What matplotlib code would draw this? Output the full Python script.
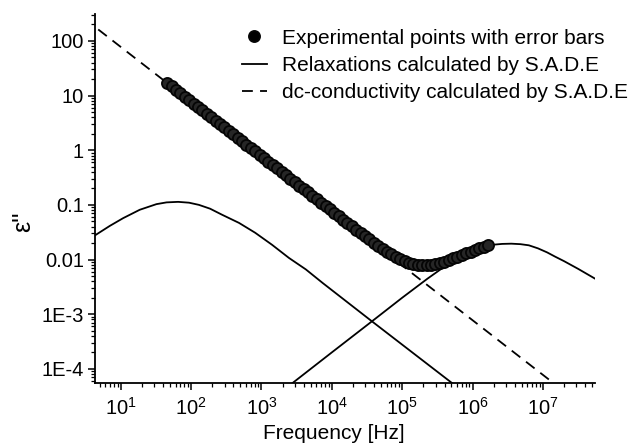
import numpy as np
import matplotlib
matplotlib.use("Agg")
import matplotlib.pyplot as plt
from matplotlib.ticker import FixedLocator, FixedFormatter, LogLocator, NullFormatter

plt.rcParams['font.family'] = ['Liberation Sans', 'DejaVu Sans']

# experimental points (Hz, eps'')
exp_freq = [45.7, 52.8, 60.9, 70.4, 81.3, 93.9, 108.4, 125.2, 144.5, 167.0,
            192.8, 222.6, 257.0, 296.9, 342.8, 395.9, 457.1, 527.9, 609.5, 704.0,
            812.8, 938.7, 1084, 1252, 1445, 1669, 1928, 2226, 2570, 2969,
            3428, 3959, 4571, 5279, 6095, 7040, 8128, 9387, 10840, 12520,
            14450, 16690, 19280, 22260, 25700, 29690, 34280, 39590, 45710, 52790,
            60950, 70400, 81280, 93870, 108400, 125200, 144500, 166900, 192800, 222600,
            257000, 296900, 342800, 395900, 457100, 527900, 609500, 704000, 812800, 938700,
            1084000, 1252000, 1445000, 1669000]
exp_eps = [16.96, 14.68, 12.73, 11.01, 9.53, 8.25, 7.15, 6.19, 5.36, 4.64,
           4.02, 3.48, 3.02, 2.61, 2.26, 1.96, 1.70, 1.47, 1.27, 1.10,
           0.954, 0.826, 0.715, 0.619, 0.536, 0.464, 0.402, 0.348, 0.302, 0.261,
           0.226, 0.196, 0.170, 0.147, 0.127, 0.110, 0.0954, 0.0826, 0.0715, 0.0619,
           0.0539, 0.0467, 0.0406, 0.0353, 0.0307, 0.0267, 0.0233, 0.0204, 0.0179, 0.0158,
           0.0139, 0.0124, 0.0112, 0.0101, 0.00932, 0.00869, 0.00825, 0.00798, 0.00788, 0.00788,
           0.00792, 0.00811, 0.00857, 0.00912, 0.00983, 0.0105, 0.0113, 0.0121, 0.0130, 0.0140,
           0.0150, 0.0162, 0.0172, 0.0183]

# relaxation 1 (low frequency)
rel1_freq = [3.55, 4.42, 7.0, 10.8, 18.6, 32.1, 44.7, 65.3, 93.3, 129,
             186, 275, 479, 813, 1413, 2455, 4266, 7413, 37150, 562000]
rel1_eps = [0.0237, 0.0283, 0.0413, 0.0571, 0.0813, 0.103, 0.111, 0.1135, 0.1096, 0.100,
            0.0851, 0.066, 0.0468, 0.0309, 0.0186, 0.0107, 0.0066, 0.00372, 0.00074, 0.00005]

# relaxation 2 (high frequency)
rel2_freq = [2512, 10000, 37150, 100000, 229000, 380000, 631000, 794000, 1000000, 1380000,
             1900000, 2630000, 3550000, 4790000, 6310000, 8510000, 11480000, 14790000,
             20000000, 31600000, 55000000]
rel2_eps = [0.00005, 0.0002, 0.00074, 0.002, 0.00447, 0.0071, 0.0105, 0.0120, 0.0138, 0.0162,
            0.0186, 0.0193, 0.0195, 0.0191, 0.0182, 0.0160, 0.0135, 0.01135,
            0.00933, 0.00676, 0.00447]

# dc conductivity (straight line in log-log)
dc_freq = [3.0, 20000000]
dc_eps = [258.0, 0.0000388]

fig = plt.figure(figsize=(6.34, 4.48), dpi=100)
ax = fig.add_axes([0.1498, 0.145, 0.7887, 0.8237])

ax.plot(dc_freq, dc_eps, color='black', lw=1.3, ls=(0, (6, 4)),
        label='dc-conductivity calculated by S.A.D.E')
ax.plot(rel1_freq, rel1_eps, color='black', lw=1.3,
        label='Relaxations calculated by S.A.D.E')
ax.plot(rel2_freq, rel2_eps, color='black', lw=1.3)
ax.plot(exp_freq, exp_eps, ls='none', marker='o', ms=8, mfc='#262626',
        mec='#050505', mew=1.3, label='Experimental points with error bars')

ax.set_xscale('log')
ax.set_yscale('log')
ax.set_xlim(4.3, 5.5e7)
ax.set_ylim(5.5e-5, 310)

for s in ['top', 'right']:
    ax.spines[s].set_visible(False)
for s in ['left', 'bottom']:
    ax.spines[s].set_linewidth(1.3)

yt = [1e-4, 1e-3, 1e-2, 1e-1, 1, 10, 100]
ax.yaxis.set_major_locator(FixedLocator(yt))
ax.yaxis.set_major_formatter(FixedFormatter(['1E-4', '1E-3', '0.01', '0.1', '1', '10', '100']))
ax.yaxis.set_minor_locator(LogLocator(base=10, subs=np.arange(2, 10), numticks=20))
ax.yaxis.set_minor_formatter(NullFormatter())

xt = [1e1, 1e2, 1e3, 1e4, 1e5, 1e6, 1e7]
ax.xaxis.set_major_locator(FixedLocator(xt))
ax.xaxis.set_major_formatter(FixedFormatter([r'$\mathregular{10^{%d}}$' % k for k in range(1, 8)]))
ax.xaxis.set_minor_locator(LogLocator(base=10, subs=np.arange(2, 10), numticks=20))
ax.xaxis.set_minor_formatter(NullFormatter())

ax.tick_params(which='major', direction='out', length=5, width=1.1, labelsize=14.5, pad=3)
ax.tick_params(which='minor', direction='out', length=3, width=0.9)
ax.tick_params(axis='x', which='major', pad=5)

ax.set_xlabel('Frequency [Hz]', fontsize=15)
ax.xaxis.set_label_coords(0.478, -0.11)
ax.set_ylabel("ε''", fontsize=18)
ax.yaxis.set_label_coords(-0.12, 0.436)

handles, labels = ax.get_legend_handles_labels()
order = [2, 1, 0]
leg = ax.legend([handles[i] for i in order], [labels[i] for i in order],
                loc='upper left', bbox_to_anchor=(0.3817, 0.936), bbox_transform=fig.transFigure,
                frameon=False, fontsize=15, borderpad=0, borderaxespad=0,
                handlelength=1.2, handletextpad=0.7, labelspacing=0.4, markerscale=1.0)
leg.legend_handles[0].set_markerfacecolor('black')

fig.savefig('out.png', dpi=100)
